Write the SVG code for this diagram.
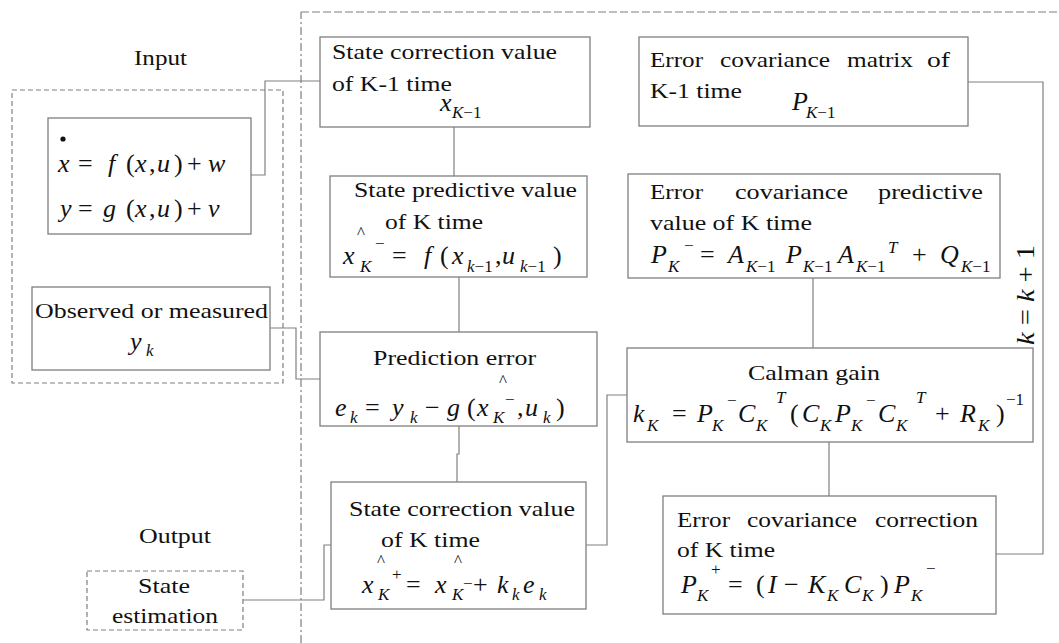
<svg xmlns="http://www.w3.org/2000/svg" width="1059" height="643" viewBox="0 0 1059 643" font-family="Liberation Serif, DejaVu Serif, serif">
<style>
.bg{fill:#fff}
.box{fill:#fff;stroke:#7f7f7f;stroke-width:1.3}
.dbox{fill:none;stroke:#7f7f7f;stroke-width:1.2;stroke-dasharray:5 3}
.con{fill:none;stroke:#808080;stroke-width:1.2}
.t{font-size:22px;fill:#111}
.m{font-size:26px;font-style:italic;fill:#111}
.n{font-style:normal}
.s{font-size:17px}
.hat{font-size:17px;fill:#111}
</style>
<rect class="bg" x="0" y="0" width="1059" height="643"/>

<g id="frames">
<path d="M301 643 V12" fill="none" stroke="#7f7f7f" stroke-width="1.2" stroke-dasharray="8 3 2 3"/>
<path d="M301 12 H1059" fill="none" stroke="#7f7f7f" stroke-width="1.2" stroke-dasharray="8 3"/>
<rect class="dbox" x="12" y="90" width="271" height="293"/>
</g>

<g id="connectors">
<path class="con" d="M251 175 H265 V81 H320"/>
<path class="con" d="M454 127 V176"/>
<path class="con" d="M459 277 V332"/>
<path class="con" d="M270 328 H296 V379 H320"/>
<path class="con" d="M459 426 V454 H457 V482"/>
<path class="con" d="M331 545 H324 V600 H243"/>
<path class="con" d="M586 545 H607 V395 H627"/>
<path class="con" d="M968 82 H1043 V554 H996"/>
<path class="con" d="M813 278 V348"/>
<path class="con" d="M829 442 V496"/>
</g>

<text class="t" x="134" y="65" textLength="53" lengthAdjust="spacingAndGlyphs">Input</text>
<text class="t" x="139" y="543" textLength="72" lengthAdjust="spacingAndGlyphs">Output</text>

<g id="model">
<rect class="box" x="48" y="118" width="203" height="116"/>
<circle cx="63" cy="139" r="2.6" fill="#111"/>
<text class="m" y="172"><tspan x="58">x</tspan><tspan x="78" class="n">=</tspan><tspan x="108">f</tspan><tspan x="126" class="n">(</tspan><tspan x="135">x</tspan><tspan x="149" class="n">,</tspan><tspan x="157">u</tspan><tspan x="174" class="n">)</tspan><tspan x="187" class="n">+</tspan><tspan x="208">w</tspan></text>
<text class="m" y="217"><tspan x="60">y</tspan><tspan x="78" class="n">=</tspan><tspan x="103">g</tspan><tspan x="126" class="n">(</tspan><tspan x="135">x</tspan><tspan x="149" class="n">,</tspan><tspan x="157">u</tspan><tspan x="174" class="n">)</tspan><tspan x="187" class="n">+</tspan><tspan x="208">v</tspan></text>
</g>

<g id="observed">
<rect class="box" x="32" y="287" width="238" height="83"/>
<text class="t" x="35" y="318" textLength="233" lengthAdjust="spacingAndGlyphs">Observed or measured</text>
<text class="m"><tspan x="130" y="350">y</tspan><tspan x="146" y="356" class="s">k</tspan></text>
</g>

<g id="estimation">
<rect class="dbox" x="87" y="571" width="156" height="59"/>
<text class="t" x="138" y="593" textLength="52" lengthAdjust="spacingAndGlyphs">State</text>
<text class="t" x="112" y="623" textLength="106" lengthAdjust="spacingAndGlyphs">estimation</text>
</g>

<g id="stateCorrPrev">
<rect class="box" x="320" y="37" width="270" height="90"/>
<text class="t" x="332" y="59" textLength="225" lengthAdjust="spacingAndGlyphs">State correction value</text>
<text class="t" x="332" y="91" textLength="120" lengthAdjust="spacingAndGlyphs">of K-1 time</text>
<text class="m"><tspan x="440" y="111">x</tspan><tspan x="452" y="118" class="s">K<tspan class="n">−1</tspan></tspan></text>
</g>

<g id="statePred">
<rect class="box" x="330" y="176" width="257" height="101"/>
<text class="t" x="354" y="197" textLength="223" lengthAdjust="spacingAndGlyphs">State predictive value</text>
<text class="hat" x="357" y="238">^</text>
<text class="t" x="385" y="229" textLength="98" lengthAdjust="spacingAndGlyphs">of K time</text>
<text class="m"><tspan x="343" y="264">x</tspan><tspan x="360" y="272" class="s">K</tspan><tspan x="375" y="249" class="s n">−</tspan><tspan x="392" y="264" class="n">=</tspan><tspan x="424">f</tspan><tspan x="440" class="n">(</tspan><tspan x="452">x</tspan><tspan x="467" y="272" class="s">k<tspan class="n">−1</tspan></tspan><tspan x="495" y="264" class="n">,</tspan><tspan x="502">u</tspan><tspan x="520" y="272" class="s">k<tspan class="n">−1</tspan></tspan><tspan x="553" y="264" class="n">)</tspan></text>
</g>

<g id="predError">
<rect class="box" x="320" y="332" width="277" height="94"/>
<text class="t" x="373" y="365" textLength="163" lengthAdjust="spacingAndGlyphs">Prediction error</text>
<text class="hat" x="499" y="386">^</text>
<text class="m"><tspan x="335" y="416">e</tspan><tspan x="350" y="423" class="s">k</tspan><tspan x="365" y="416" class="n">=</tspan><tspan x="392">y</tspan><tspan x="410" y="423" class="s">k</tspan><tspan x="425" y="416" class="n">−</tspan><tspan x="447">g</tspan><tspan x="467" class="n">(</tspan><tspan x="477">x</tspan><tspan x="493" y="423" class="s">K</tspan><tspan x="505" y="405" class="s n">−</tspan><tspan x="517" y="416" class="n">,</tspan><tspan x="525">u</tspan><tspan x="543" y="423" class="s">k</tspan><tspan x="556" y="416" class="n">)</tspan></text>
</g>

<g id="stateCorr">
<rect class="box" x="331" y="482" width="255" height="127"/>
<text class="t" x="349" y="516" textLength="226" lengthAdjust="spacingAndGlyphs">State correction value</text>
<text class="t" x="381" y="547" textLength="99" lengthAdjust="spacingAndGlyphs">of K time</text>
<text class="hat" x="377" y="566">^</text>
<text class="hat" x="454" y="566">^</text>
<text class="m"><tspan x="362" y="593">x</tspan><tspan x="378" y="600" class="s">K</tspan><tspan x="392" y="580" class="s n">+</tspan><tspan x="406" y="593" class="n">=</tspan><tspan x="435">x</tspan><tspan x="452" y="600" class="s">K</tspan><tspan x="463" y="589" class="s n">−</tspan><tspan x="473" y="593" class="n">+</tspan><tspan x="497">k</tspan><tspan x="512" y="600" class="s">k</tspan><tspan x="523" y="593">e</tspan><tspan x="539" y="600" class="s">k</tspan></text>
</g>

<g id="covPrev">
<rect class="box" x="639" y="37" width="329" height="89"/>
<text class="t" y="67"><tspan x="650" textLength="53" lengthAdjust="spacingAndGlyphs">Error</tspan> <tspan x="720" textLength="110" lengthAdjust="spacingAndGlyphs">covariance</tspan> <tspan x="847" textLength="66" lengthAdjust="spacingAndGlyphs">matrix</tspan> <tspan x="927" textLength="23" lengthAdjust="spacingAndGlyphs">of</tspan></text>
<text class="t" x="650" y="98" textLength="92" lengthAdjust="spacingAndGlyphs">K-1 time</text>
<text class="m"><tspan x="792" y="110">P</tspan><tspan x="806" y="118" class="s">K<tspan class="n">−1</tspan></tspan></text>
</g>

<g id="covPred">
<rect class="box" x="628" y="174" width="372" height="104"/>
<text class="t" y="199"><tspan x="650" textLength="53" lengthAdjust="spacingAndGlyphs">Error</tspan> <tspan x="735" textLength="113" lengthAdjust="spacingAndGlyphs">covariance</tspan> <tspan x="878" textLength="105" lengthAdjust="spacingAndGlyphs">predictive</tspan></text>
<text class="t" x="650" y="230" textLength="162" lengthAdjust="spacingAndGlyphs">value of K time</text>
<text class="m"><tspan x="651" y="263">P</tspan><tspan x="668" y="272" class="s">K</tspan><tspan x="684" y="251" class="s n">−</tspan><tspan x="700" y="263" class="n">=</tspan><tspan x="728">A</tspan><tspan x="746" y="272" class="s">K<tspan class="n">−1</tspan></tspan><tspan x="786" y="263">P</tspan><tspan x="803" y="272" class="s">K<tspan class="n">−1</tspan></tspan><tspan x="838" y="263">A</tspan><tspan x="856" y="272" class="s">K<tspan class="n">−1</tspan></tspan><tspan x="888" y="253" class="s">T</tspan><tspan x="912" y="263" class="n">+</tspan><tspan x="940">Q</tspan><tspan x="961" y="272" class="s">K<tspan class="n">−1</tspan></tspan></text>
</g>

<g id="gain">
<rect class="box" x="627" y="348" width="406" height="94"/>
<text class="t" x="748" y="380" textLength="132" lengthAdjust="spacingAndGlyphs">Calman gain</text>
<text class="m"><tspan x="633" y="422">k</tspan><tspan x="647" y="431" class="s">K</tspan><tspan x="672" y="422" class="n">=</tspan><tspan x="697">P</tspan><tspan x="712" y="431" class="s">K</tspan><tspan x="727" y="406" class="s n">−</tspan><tspan x="738" y="422">C</tspan><tspan x="756" y="431" class="s">K</tspan><tspan x="776" y="403" class="s">T</tspan><tspan x="790" y="422" class="n">(</tspan><tspan x="802">C</tspan><tspan x="820" y="431" class="s">K</tspan><tspan x="835" y="422">P</tspan><tspan x="851" y="431" class="s">K</tspan><tspan x="866" y="406" class="s n">−</tspan><tspan x="878" y="422">C</tspan><tspan x="896" y="431" class="s">K</tspan><tspan x="916" y="403" class="s">T</tspan><tspan x="935" y="422" class="n">+</tspan><tspan x="960">R</tspan><tspan x="978" y="431" class="s">K</tspan><tspan x="996" y="422" class="n">)</tspan><tspan x="1006" y="405" class="s n">−1</tspan></text>
</g>

<g id="covCorr">
<rect class="box" x="663" y="496" width="333" height="118"/>
<text class="t" y="527"><tspan x="677" textLength="53" lengthAdjust="spacingAndGlyphs">Error</tspan> <tspan x="747" textLength="110" lengthAdjust="spacingAndGlyphs">covariance</tspan> <tspan x="875" textLength="103" lengthAdjust="spacingAndGlyphs">correction</tspan></text>
<text class="t" x="677" y="557" textLength="98" lengthAdjust="spacingAndGlyphs">of K time</text>
<text class="m"><tspan x="681" y="593">P</tspan><tspan x="697" y="601" class="s">K</tspan><tspan x="711" y="575" class="s n">+</tspan><tspan x="728" y="593" class="n">=</tspan><tspan x="756" class="n">(</tspan><tspan x="768">I</tspan><tspan x="784" class="n">−</tspan><tspan x="808">K</tspan><tspan x="827" y="601" class="s">K</tspan><tspan x="844" y="593">C</tspan><tspan x="862" y="601" class="s">K</tspan><tspan x="880" y="593" class="n">)</tspan><tspan x="894">P</tspan><tspan x="911" y="601" class="s">K</tspan><tspan x="926" y="574" class="s n">−</tspan></text>
</g>

<text class="m" transform="translate(1034 345) rotate(-90)" x="0" y="0" textLength="100" lengthAdjust="spacingAndGlyphs">k<tspan class="n"> = </tspan>k<tspan class="n"> + 1</tspan></text>
</svg>
